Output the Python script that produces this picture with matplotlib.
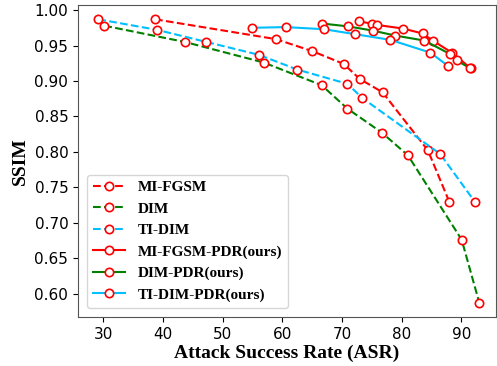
#ssim_asr.py: SSIM vs attack success rate for baseline and PDR attacks

import matplotlib
matplotlib.use("Agg")
import matplotlib.pyplot as plt

#baselines (dashed)
mifgsm_asr = [38.7, 58.95, 65.05, 70.3, 72.95, 76.8, 84.4, 88.0]
mifgsm_ssim = [0.987, 0.959, 0.942, 0.924, 0.903, 0.884, 0.802, 0.729]

dim_asr = [30.2, 43.7, 56.9, 66.6, 70.9, 76.7, 81.05, 90.05, 93.0]
dim_ssim = [0.978, 0.955, 0.926, 0.894, 0.861, 0.827, 0.795, 0.676, 0.587]

tidim_asr = [29.2, 39.1, 47.3, 56.05, 62.55, 70.9, 73.4, 86.45, 92.3]
tidim_ssim = [0.987, 0.972, 0.955, 0.937, 0.916, 0.896, 0.876, 0.797, 0.729]

#PDR versions (solid)
mifgsm_pdr_asr = [72.8, 74.95, 75.9, 80.2, 83.5, 85.2, 88.4, 91.55]
mifgsm_pdr_ssim = [0.984, 0.981, 0.979, 0.974, 0.967, 0.957, 0.940, 0.918]

dim_pdr_asr = [66.7, 71.05, 75.2, 78.95, 83.8, 88.1, 89.2, 91.45]
dim_pdr_ssim = [0.981, 0.977, 0.971, 0.964, 0.957, 0.938, 0.929, 0.918]

tidim_pdr_asr = [54.9, 60.6, 67.0, 72.2, 78.1, 84.8, 87.8]
tidim_pdr_ssim = [0.975, 0.976, 0.973, 0.966, 0.958, 0.940, 0.921]

series = [
    (mifgsm_asr, mifgsm_ssim, "red", "--", "MI-FGSM"),
    (dim_asr, dim_ssim, "green", "--", "DIM"),
    (tidim_asr, tidim_ssim, "deepskyblue", "--", "TI-DIM"),
    (mifgsm_pdr_asr, mifgsm_pdr_ssim, "red", "-", "MI-FGSM-PDR(ours)"),
    (dim_pdr_asr, dim_pdr_ssim, "green", "-", "DIM-PDR(ours)"),
    (tidim_pdr_asr, tidim_pdr_ssim, "deepskyblue", "-", "TI-DIM-PDR(ours)"),
]

fig = plt.figure(figsize=(4.97, 3.66), dpi=100)
ax = fig.add_axes([0.157, 0.134, 0.841, 0.852])

for x, y, c, ls, name in series:
    ax.plot(x, y, color=c, linestyle=ls, linewidth=1.5, marker="o",
            markersize=6, markerfacecolor="white", markeredgecolor="red",
            markeredgewidth=1.2, label=name)

ax.set_xlim(25.8, 95.8)
ax.set_ylim(0.567, 1.007)
ax.set_xticks([30, 40, 50, 60, 70, 80, 90])
ax.set_yticks([0.60, 0.65, 0.70, 0.75, 0.80, 0.85, 0.90, 0.95, 1.00])
ax.tick_params(labelsize=11)

serif_bold = {"family": "Liberation Serif", "weight": "bold"}
ax.set_xlabel("Attack Success Rate (ASR)", fontdict=dict(serif_bold, size=14), labelpad=2)
ax.set_ylabel("SSIM", fontdict=dict(serif_bold, size=14), labelpad=4)

ax.legend(loc="lower left", prop={"family": "Liberation Serif", "weight": "bold", "size": 11},
          handlelength=2.1, labelspacing=0.5, borderaxespad=0.6)

for s in ax.spines.values():
    s.set_color("#555555")

fig.savefig("out.png", dpi=100)
